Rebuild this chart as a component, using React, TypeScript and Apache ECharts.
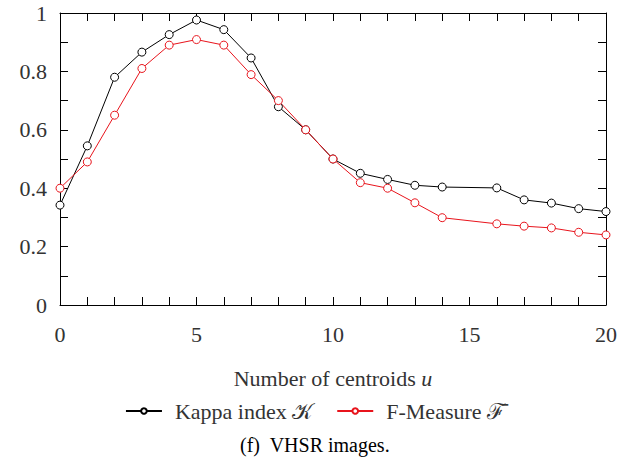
import React, { useEffect, useRef } from "react";
import * as echarts from "echarts";

const centroids = [0, 1, 2, 3, 4, 5, 6, 7, 8, 9, 10, 11, 12, 13, 14, 16, 17, 18, 19, 20];
const kappa = [0.342, 0.545, 0.78, 0.866, 0.926, 0.976, 0.943, 0.846, 0.679, 0.6, 0.5, 0.451, 0.43, 0.41, 0.404, 0.401, 0.36, 0.349, 0.33, 0.32];
const fMeasure = [0.4, 0.49, 0.65, 0.81, 0.89, 0.909, 0.89, 0.789, 0.7, 0.6, 0.5, 0.419, 0.4, 0.35, 0.299, 0.278, 0.27, 0.264, 0.249, 0.24];
const seriesNames = ["Kappa index 𝒦", "F-Measure ℱ̄"];
const xTitle = "Number of centroids {i|u}";
const caption = "(f)  VHSR images.";

const FONT = "Liberation Serif";

export default function App() {
  const ref = useRef<HTMLDivElement>(null);
  useEffect(() => {
    const chart = echarts.init(ref.current!, null, { renderer: "svg" });
    const tickStyle = { color: "#000", width: 1 };
    const mk = (vals: number[]) => centroids.map((c, i) => [c, vals[i]]);
    const lineStyleAxis = { onZero: false, show: true, lineStyle: { color: "#000", width: 1 } };
    const txt = { fontFamily: FONT, fontSize: 22, color: "#333" };
    chart.setOption({
      animation: false,
      backgroundColor: "#fff",
      grid: { left: 60, right: 24, top: 13, bottom: 165, containLabel: false },
      xAxis: [
        {
          type: "value",
          min: 0,
          max: 20,
          interval: 5,
          position: "bottom",
          name: xTitle,
          nameLocation: "middle",
          nameGap: 62,
          nameTextStyle: { ...txt, rich: { i: { ...txt, fontStyle: "italic" } } },
          axisLine: lineStyleAxis,
          axisTick: { inside: true, length: 8, lineStyle: tickStyle },
          minorTick: { show: true, splitNumber: 5, length: 8, lineStyle: tickStyle },
          axisLabel: { ...txt, margin: 18 },
          splitLine: { show: false },
        },
        {
          type: "value",
          min: 0,
          max: 20,
          interval: 5,
          position: "top",
          axisLine: lineStyleAxis,
          axisTick: { inside: true, length: 8, lineStyle: tickStyle },
          minorTick: { show: true, splitNumber: 5, length: 8, lineStyle: tickStyle },
          axisLabel: { show: false },
          splitLine: { show: false },
        },
      ],
      yAxis: [
        {
          type: "value",
          min: 0,
          max: 1,
          interval: 0.2,
          position: "left",
          axisLine: lineStyleAxis,
          axisTick: { show: true, inside: true, length: 8, lineStyle: tickStyle },
          minorTick: { show: true, splitNumber: 2, length: 8, lineStyle: tickStyle },
          axisLabel: {
            ...txt,
            margin: 13,
            formatter: (v: number) => (v === 0 || v === 1 ? String(v) : v.toFixed(1)),
          },
          splitLine: { show: false },
        },
        {
          type: "value",
          min: 0,
          max: 1,
          interval: 0.2,
          position: "right",
          axisLine: lineStyleAxis,
          axisTick: { show: true, inside: true, length: 8, lineStyle: tickStyle },
          minorTick: { show: true, splitNumber: 2, length: 8, lineStyle: tickStyle },
          axisLabel: { show: false },
          splitLine: { show: false },
        },
      ],
      legend: {
        bottom: 43,
        left: "center",
        itemWidth: 36,
        itemHeight: 7,
        itemGap: 24,
        textStyle: { ...txt, padding: [0, 0, 0, 8] },
        data: seriesNames,
      },
      graphic: [
        {
          type: "text",
          left: "center",
          top: 435,
          style: { text: caption, fontFamily: FONT, fontSize: 20, fill: "#000" },
        },
      ],
      series: [
        {
          name: seriesNames[0],
          type: "line",
          data: mk(kappa),
          symbol: "circle",
          symbolSize: 8,
          color: "#000",
          lineStyle: { color: "#000", width: 1 },
          itemStyle: { color: "#fff", borderColor: "#000", borderWidth: 1 },
        },
        {
          name: seriesNames[1],
          type: "line",
          data: mk(fMeasure),
          symbol: "circle",
          symbolSize: 8,
          color: "#e8141c",
          lineStyle: { color: "#e8141c", width: 1 },
          itemStyle: { color: "#fff", borderColor: "#e8141c", borderWidth: 1 },
        },
      ],
    });
    return () => chart.dispose();
  }, []);
  return <div ref={ref} style={{ width: 630, height: 470, position: "absolute", left: 0, top: 0 }} />;
}
